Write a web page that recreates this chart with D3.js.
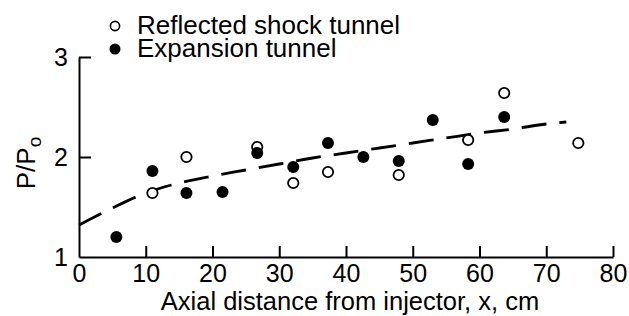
<!DOCTYPE html>
<html lang="en">
<head>
    <meta charset="UTF-8">
    <title>P/P0 vs axial distance</title>
    <style>
        body {
            background-color: #ffffff;
            margin: 0;
            overflow: hidden;
            font-family: "Liberation Sans", Arial, sans-serif;
        }
        svg {
            display: block;
        }
        .axis path, .axis line {
            fill: none;
            stroke: #000;
            stroke-width: 2;
        }
        .axis text {
            font-family: "Liberation Sans", Arial, sans-serif;
            font-size: 25px;
            fill: #000;
        }
        .axis-label, .legend text {
            font-family: "Liberation Sans", Arial, sans-serif;
            font-size: 26px;
            fill: #000;
        }
    </style>
</head>
<body>
    <svg id="chart"></svg>

    <script src="https://d3js.org/d3.v7.min.js"></script>
    <script>
        // Reflected shock tunnel (open circles)
        const reflectedX = [11.0, 16.1, 26.7, 32.1, 37.3, 47.9, 58.3, 63.7, 74.8];
        const reflectedY = [1.64, 2.00, 2.10, 1.74, 1.85, 1.82, 2.17, 2.64, 2.14];

        // Expansion tunnel (filled circles)
        const expansionX = [5.6, 11.0, 16.1, 21.5, 26.7, 32.1, 37.3, 42.6, 47.9, 53.0, 58.3, 63.7];
        const expansionY = [1.20, 1.86, 1.64, 1.65, 2.04, 1.90, 2.14, 2.00, 1.96, 2.37, 1.93, 2.40];

        // dashed trend curve
        const fitX = [0, 5, 10, 15, 20, 25, 30, 35, 40, 45, 50, 55, 60, 65, 70, 73];
        const fitY = [1.32, 1.49, 1.64, 1.74, 1.81, 1.87, 1.93, 1.99, 2.04, 2.09, 2.14, 2.19, 2.24, 2.28, 2.33, 2.35];

        const xTicks = [0, 10, 20, 30, 40, 50, 60, 70, 80];
        const yTicks = [1, 2, 3];
        const legendLabels = ["Reflected shock tunnel", "Expansion tunnel"];

        const W = 629, H = 316;
        const margin = { top: 57, right: 16, bottom: 59, left: 79 },
              width = W - margin.left - margin.right,
              height = H - margin.top - margin.bottom;

        const svg = d3.select("#chart")
            .attr("width", W)
            .attr("height", H)
            .append("g")
            .attr("transform", `translate(${margin.left},${margin.top})`);

        const x = d3.scaleLinear().domain([0, 80]).range([0, width]);
        const y = d3.scaleLinear().domain([1, 3]).range([height, 0]);

        // axes with inward ticks
        svg.append("g")
            .attr("class", "x axis")
            .attr("transform", `translate(0,${height})`)
            .call(d3.axisBottom(x).tickValues(xTicks).tickFormat(d3.format("d"))
                .tickSizeInner(-11).tickSizeOuter(0).tickPadding(7))
            .call(g => g.selectAll(".tick").filter(d => d === 0).select("line").remove());

        svg.append("g")
            .attr("class", "y axis")
            .call(d3.axisLeft(y).tickValues(yTicks).tickFormat(d3.format("d"))
                .tickSizeInner(-12).tickSizeOuter(0).tickPadding(11))
            .call(g => g.selectAll(".tick").filter(d => d === 1).select("line").remove());

        // dashed curve
        const fitData = fitX.map((v, i) => ({ x: v, y: fitY[i] }));
        svg.append("path")
            .datum(fitData)
            .attr("fill", "none")
            .attr("stroke", "#000")
            .attr("stroke-width", 2.8)
            .attr("stroke-dasharray", "25,13")
            .attr("d", d3.line().x(d => x(d.x)).y(d => y(d.y)).curve(d3.curveMonotoneX));

        // points
        const reflected = reflectedX.map((v, i) => ({ x: v, y: reflectedY[i] }));
        const expansion = expansionX.map((v, i) => ({ x: v, y: expansionY[i] }));

        svg.selectAll(".open")
            .data(reflected)
            .enter().append("circle")
            .attr("class", "open")
            .attr("cx", d => x(d.x))
            .attr("cy", d => y(d.y))
            .attr("r", 5.2)
            .attr("fill", "#fff")
            .attr("stroke", "#000")
            .attr("stroke-width", 1.8);

        svg.selectAll(".filled")
            .data(expansion)
            .enter().append("circle")
            .attr("class", "filled")
            .attr("cx", d => x(d.x))
            .attr("cy", d => y(d.y))
            .attr("r", 6)
            .attr("fill", "#000");

        // axis labels
        svg.append("text")
            .attr("class", "axis-label")
            .attr("x", width / 2 + 4)
            .attr("y", height + 53)
            .style("text-anchor", "middle")
            .style("font-size", "25.5px")
            .text("Axial distance from injector, x, cm");

        const yl = svg.append("text")
            .attr("class", "axis-label")
            .attr("transform", `translate(${-margin.left + 35},${height / 2 + 6}) rotate(-90)`)
            .style("text-anchor", "middle");
        yl.append("tspan").text("P/P");
        yl.append("tspan").attr("dy", 6).style("font-size", "19px").text("o");

        // legend
        const legend = svg.append("g")
            .attr("class", "legend")
            .attr("transform", `translate(0, ${-margin.top})`);

        legendLabels.forEach((label, i) => {
            const ly = 26 + i * 23;
            legend.append("circle")
                .attr("cx", 36)
                .attr("cy", ly)
                .attr("r", i === 0 ? 4.6 : 5.5)
                .attr("fill", i === 0 ? "#fff" : "#000")
                .attr("stroke", "#000")
                .attr("stroke-width", i === 0 ? 1.6 : 0);
            legend.append("text")
                .attr("x", 58)
                .attr("y", ly + 8)
                .text(label);
        });
    </script>
</body>
</html>
